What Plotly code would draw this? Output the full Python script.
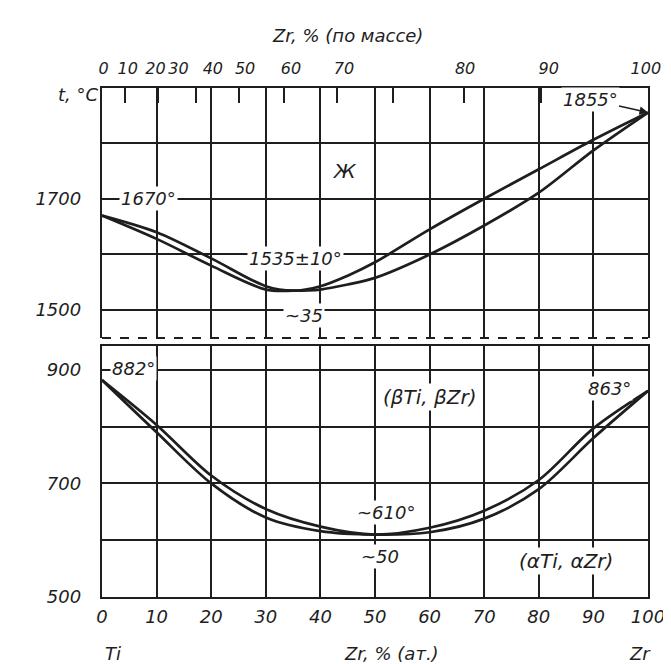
import plotly.graph_objects as go

# ---------------- data ----------------
# upper panel: liquidus / solidus, Zr at.%
x_liq = [0, 10, 20, 30, 35, 40, 45, 50, 60, 70, 80, 90, 100]
liquidus = [1670, 1640, 1593, 1543, 1535, 1543, 1562, 1586, 1645, 1700, 1753, 1806, 1855]
solidus = [1670, 1628, 1580, 1537, 1535, 1537, 1546, 1558, 1600, 1652, 1711, 1787, 1855]

# lower panel: beta / alpha transus, Zr at.%
x_tr = [0, 10, 20, 30, 40, 50, 60, 70, 80, 90, 100]
beta_transus = [882, 803, 714, 655, 624, 610, 622, 652, 706, 797, 863]
alpha_transus = [882, 790, 700, 640, 616, 610, 614, 638, 690, 780, 863]

# axes
at_ticks = [0, 10, 20, 30, 40, 50, 60, 70, 80, 90, 100]
at_labels = ["0", "10", "20", "30", "40", "50", "60", "70", "80", "90", "100"]
wt_labels = ["0", "10", "20", "30", "40", "50", "60", "70", "80", "90", "100"]
wt_label_pos = [0.3, 4.7, 9.8, 14.0, 20.3, 26.2, 34.6, 44.3, 66.5, 81.8, 99.6]
wt_tick_pos = [4.3, 10.2, 17.3, 25.1, 33.3, 43.1, 53.3, 66.3, 80.4]
upper_ticks = [1500, 1600, 1700, 1800]
upper_ticktext = ["1500", "", "1700", ""]
lower_ticks = [500, 600, 700, 800, 900]
lower_ticktext = ["500", "", "700", "", "900"]

INK = "#1e1e1e"
FAM = "DejaVu Sans"
FONT = dict(family=FAM, size=18, color=INK, style="italic")
FONT_TOP = dict(family=FAM, size=16, color=INK, style="italic")
FONT_NOTE = dict(family=FAM, size=18, color=INK, style="italic")
FONT_PHASE = dict(family=FAM, size=20, color=INK, style="italic")
GRID_W = 1.5
CURVE_W = 2.7
BORDER_W = 2.4

fig = go.Figure()

line = dict(color=INK, width=CURVE_W, shape="spline", smoothing=0.9)
fig.add_trace(go.Scatter(x=x_liq, y=liquidus, mode="lines", line=line,
                         xaxis="x2", yaxis="y2", showlegend=False, hoverinfo="skip"))
fig.add_trace(go.Scatter(x=x_liq, y=solidus, mode="lines", line=line,
                         xaxis="x2", yaxis="y2", showlegend=False, hoverinfo="skip"))
fig.add_trace(go.Scatter(x=x_tr, y=beta_transus, mode="lines", line=line,
                         xaxis="x", yaxis="y", showlegend=False, hoverinfo="skip"))
fig.add_trace(go.Scatter(x=x_tr, y=alpha_transus, mode="lines", line=line,
                         xaxis="x", yaxis="y", showlegend=False, hoverinfo="skip"))
# empty traces so the overlay axes get drawn
fig.add_trace(go.Scatter(x=[None], y=[None], xaxis="x3", yaxis="y2", showlegend=False, hoverinfo="skip"))
fig.add_trace(go.Scatter(x=[None], y=[None], xaxis="x4", yaxis="y2", showlegend=False, hoverinfo="skip"))

L, R, T, B = 94, 31, 80, 75
W, H = 671, 664
plot_h = H - T - B
up_bottom = (H - B - 330) / plot_h
low_top = (H - B - 338) / plot_h

fig.update_layout(
    width=W, height=H,
    margin=dict(l=L, r=R, t=T, b=B),
    paper_bgcolor="white", plot_bgcolor="white",
    font=FONT,
    xaxis=dict(domain=[0, 1], range=[0, 100], anchor="y",
               tickvals=at_ticks, ticktext=at_labels, ticks="", tickangle=0,
               showgrid=True, gridcolor=INK, gridwidth=GRID_W,
               showline=True, linecolor=INK, linewidth=BORDER_W, mirror=True,
               zeroline=False, ticklabelstandoff=2, tickfont=FONT),
    yaxis=dict(domain=[0, low_top], range=[500, 942], anchor="x",
               tickvals=lower_ticks, ticktext=lower_ticktext, ticks="",
               showgrid=True, gridcolor=INK, gridwidth=GRID_W,
               showline=True, linecolor=INK, linewidth=BORDER_W, mirror=True,
               zeroline=False, ticklabelstandoff=15, tickfont=FONT),
    xaxis2=dict(domain=[0, 1], range=[0, 100], anchor="y2", side="top",
                tickvals=at_ticks, showticklabels=False, ticks="",
                showgrid=True, gridcolor=INK, gridwidth=GRID_W,
                showline=True, linecolor=INK, linewidth=BORDER_W, mirror=False,
                zeroline=False),
    xaxis3=dict(overlaying="x2", anchor="y2", side="top", range=[0, 100],
                tickvals=wt_label_pos, ticktext=wt_labels, ticks="", tickangle=0,
                showgrid=False, showline=False, zeroline=False,
                ticklabelstandoff=10, tickfont=FONT_TOP),
    xaxis4=dict(overlaying="x2", anchor="y2", side="top", range=[0, 100],
                tickvals=wt_tick_pos, ticks="inside", ticklen=15, tickwidth=1.7,
                tickcolor=INK, showticklabels=False,
                showgrid=False, showline=False, zeroline=False),
    yaxis2=dict(domain=[up_bottom, 1], range=[1450, 1899], anchor="x2",
                tickvals=upper_ticks, ticktext=upper_ticktext, ticks="",
                showgrid=True, gridcolor=INK, gridwidth=GRID_W,
                showline=True, linecolor=INK, linewidth=BORDER_W, mirror=True,
                zeroline=False, ticklabelstandoff=15, tickfont=FONT),
)

# dashed lower border of the upper panel (break of the temperature axis)
fig.add_shape(type="line", xref="paper", yref="y2 domain", x0=0, x1=1, y0=0, y1=0,
              line=dict(color=INK, width=2, dash="dash"))

def note(text, x, y, xr, yr, font=FONT_NOTE, **kw):
    fig.add_annotation(text=text, x=x, y=y, xref=xr, yref=yr, showarrow=False,
                       font=font, bgcolor="white", borderpad=1, **kw)

# upper panel labels
note("1670°", 8.5, 1700, "x2", "y2")
note("Ж", 44.5, 1750, "x2", "y2", font=FONT_PHASE)
note("1535±10°", 35.5, 1592, "x2", "y2")
note("~35", 37, 1490, "x2", "y2")
fig.add_annotation(text="1855°", x=100, y=1855, xref="x2", yref="y2",
                   showarrow=True, ax=-58, ay=-13, arrowhead=2, arrowsize=1,
                   arrowwidth=1.7, arrowcolor=INK, standoff=0, font=FONT_NOTE,
                   bgcolor="white")

# lower panel labels
note("882°", 5.8, 902, "x", "y")
note("(βTi, βZr)", 60, 852, "x", "y", font=FONT_PHASE)
note("863°", 93, 868, "x", "y")
note("~610°", 52, 648, "x", "y")
note("~50", 51, 572, "x", "y")
note("(αTi, αZr)", 85, 563, "x", "y", font=FONT_PHASE)

# axis captions
CAP = dict(y=0, xref="x", yref="paper", yanchor="top", yshift=-44,
           showarrow=False, font=FONT)
fig.add_annotation(text="Ti", x=2, **CAP)
fig.add_annotation(text="Zr", x=98.5, **CAP)
fig.add_annotation(text="Zr, % (ат.)", x=53, **CAP)
fig.add_annotation(text="Zr, % (по массе)", x=0.45, y=1, xref="paper", yref="paper",
                   yanchor="bottom", yshift=40, showarrow=False, font=FONT)
fig.add_annotation(text="t, °C", x=-0.085, y=1, xref="paper", yref="paper",
                   yshift=6, showarrow=False, font=FONT)

fig.write_html("out.html")
